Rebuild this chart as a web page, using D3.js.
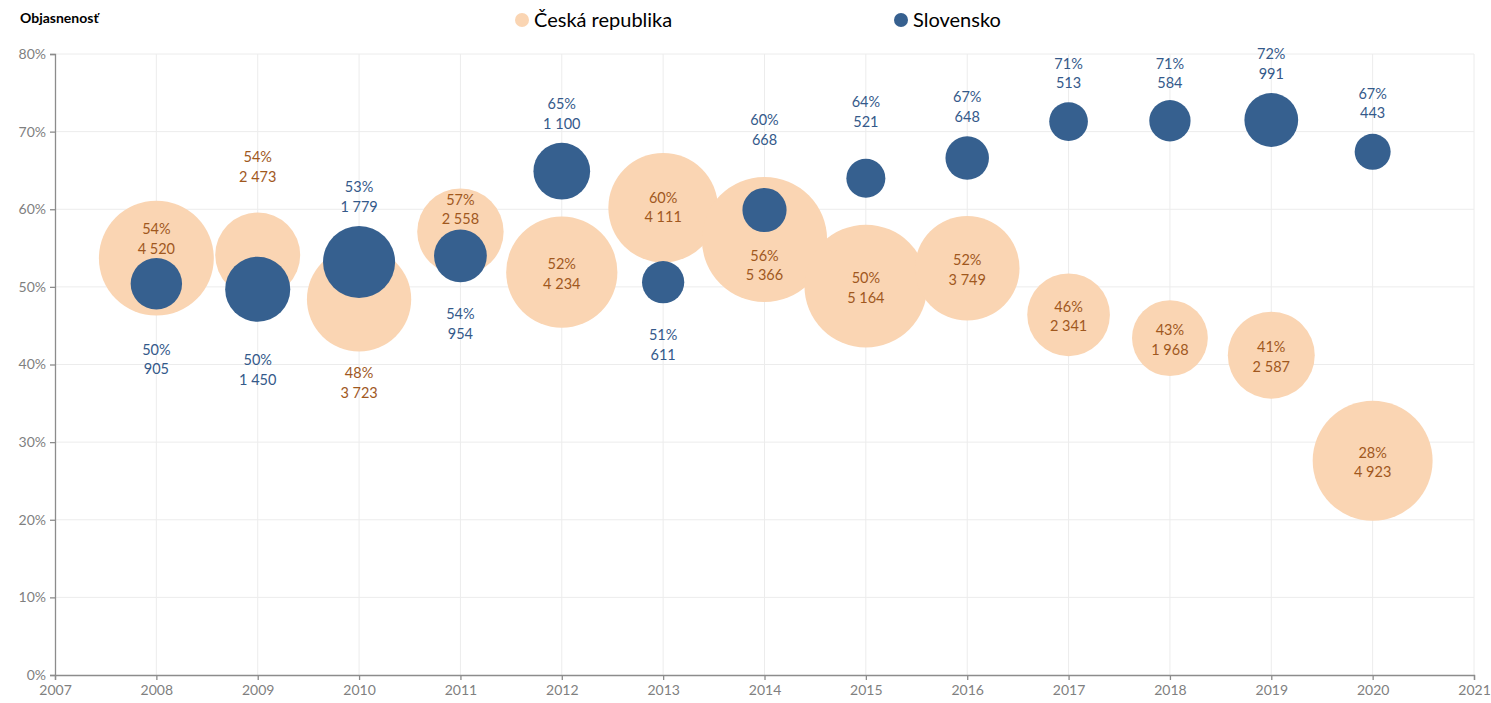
<!DOCTYPE html>
<html>
<head>
<meta charset="utf-8">
<script src="https://cdn.jsdelivr.net/npm/d3@7"></script>
<style>
  body { margin: 0; background: #fff; }
  svg text { font-family: Lato, "Open Sans", sans-serif; }
</style>
</head>
<body>
<svg id="graf" width="1491" height="703"></svg>
<script>
// ---------------- data ----------------
const roky = [2008, 2009, 2010, 2011, 2012, 2013, 2014, 2015, 2016, 2017, 2018, 2019, 2020]

// Česká republika
const czObjasnenost = [0.537, 0.541, 0.484, 0.571, 0.519, 0.602, 0.561, 0.501, 0.524, 0.464, 0.434, 0.412, 0.276]
const czPocet = [4520, 2473, 3723, 2558, 4234, 4111, 5366, 5164, 3749, 2341, 1968, 2587, 4923]

// Slovensko
const skObjasnenost = [0.504, 0.497, 0.532, 0.540, 0.649, 0.506, 0.599, 0.640, 0.666, 0.713, 0.714, 0.715, 0.674]
const skPocet = [905, 1450, 1779, 954, 1100, 611, 668, 521, 648, 513, 584, 991, 443]

const yTicks = [0, 0.1, 0.2, 0.3, 0.4, 0.5, 0.6, 0.7, 0.8]
const xTicks = d3.range(2007, 2022)

// posun popiskov (px) oproti stredu bubliny
const czPopisDy = [-21, -90, 82, -24, 0, -2, 24, 0, 0, 0, 0, 0, 0]
const skPopisDy = [74, 79, -67, 66, -59, 61, -82, -68, -53, -50, -49, -58, -50]

const serie = [
    { nazov: "Česká republika", hodnoty: czObjasnenost, pocty: czPocet, dy: czPopisDy, fill: "#FAD5B3", text: "#A0581E" },
    { nazov: "Slovensko", hodnoty: skObjasnenost, pocty: skPocet, dy: skPopisDy, fill: "#36608F", text: "#34598A" }
]

// ---------------- chart ----------------
const svg = d3.select("#graf")
const okrajL = 55, okrajP = 1474, okrajH = 54, okrajD = 675

const x = d3.scaleLinear().domain([2007, 2021]).range([okrajL, okrajP])
const y = d3.scaleLinear().domain([0, 0.8]).range([okrajD, okrajH])
const r = d3.scaleSqrt().domain([0, 5366]).range([0, 62.6])

const fmtPct = d3.format(".0%")
const fmtNum = n => d3.format(",")(n).replace(",", "\u00a0")

// mriežka
svg.append("g").selectAll("line").data(yTicks.slice(1)).join("line")
    .attr("x1", okrajL).attr("x2", okrajP)
    .attr("y1", d => y(d)).attr("y2", d => y(d))
    .attr("stroke", "#ececec").attr("stroke-width", 1)
svg.append("g").selectAll("line").data(xTicks.slice(1)).join("line")
    .attr("x1", d => x(d)).attr("x2", d => x(d))
    .attr("y1", okrajH).attr("y2", okrajD)
    .attr("stroke", "#ececec").attr("stroke-width", 1)

// osi
const osX = svg.append("g").attr("transform", "translate(0," + okrajD + ")")
    .call(d3.axisBottom(x).tickValues(xTicks).tickFormat(d3.format("d")).tickSize(5).tickPadding(5))
const osY = svg.append("g").attr("transform", "translate(" + okrajL + ",0)")
    .call(d3.axisLeft(y).tickValues(yTicks).tickFormat(fmtPct).tickSize(5).tickPadding(4))
for (const os of [osX, osY]) {
    os.select(".domain").attr("stroke", "#8c8c8c").attr("stroke-width", 1.3)
    os.selectAll(".tick line").attr("stroke", "#8c8c8c").attr("stroke-width", 1.3)
    os.selectAll(".tick text").attr("fill", "#7f7f7f").style("font-size", "14px")
}

// bubliny
for (const s of serie) {
    svg.append("g").selectAll("circle").data(roky).join("circle")
        .attr("cx", d => x(d))
        .attr("cy", (d, i) => y(s.hodnoty[i]))
        .attr("r", (d, i) => r(s.pocty[i]))
        .attr("fill", s.fill)
}

// popisky
for (const s of serie) {
    const g = svg.append("g").selectAll("text").data(roky).join("text")
        .attr("x", d => x(d))
        .attr("y", (d, i) => y(s.hodnoty[i]) + s.dy[i])
        .attr("text-anchor", "middle")
        .attr("fill", s.text)
        .style("font-size", "14.5px")
    g.append("tspan").attr("x", d => x(d)).attr("dy", "-0.2em")
        .text((d, i) => fmtPct(s.hodnoty[i]))
    g.append("tspan").attr("x", d => x(d)).attr("dy", "1.35em")
        .text((d, i) => fmtNum(s.pocty[i]))
}

// nadpis osi
svg.append("text").attr("x", 20).attr("y", 23)
    .style("font-size", "14px").style("font-weight", "bold").attr("fill", "#000")
    .text("Objasnenosť")

// legenda
const legenda = [{ x: 522, s: serie[0] }, { x: 901, s: serie[1] }]
for (const l of legenda) {
    svg.append("circle").attr("cx", l.x).attr("cy", 20).attr("r", 7).attr("fill", l.s.fill)
    svg.append("text").attr("x", l.x + 12).attr("y", 27)
        .style("font-size", "20px").attr("fill", "#000")
        .text(l.s.nazov)
}
</script>
</body>
</html>
